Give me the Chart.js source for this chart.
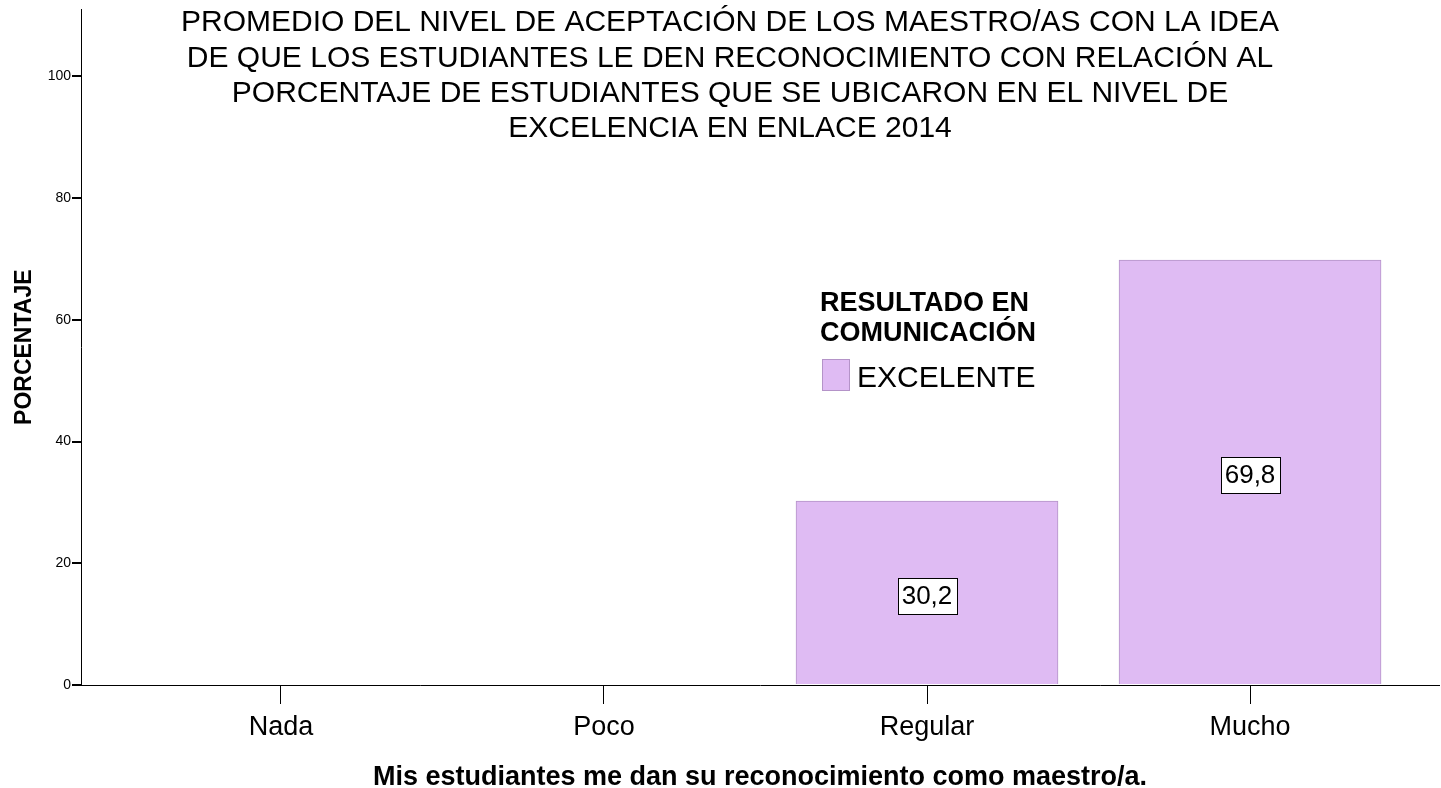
<!DOCTYPE html>
<html>
<head>
<meta charset="utf-8">
<script src="https://cdn.jsdelivr.net/npm/chart.js@4.4.1/dist/chart.umd.min.js"></script>
<style>
  html, body { margin: 0; padding: 0; background: #fff; }
  #wrap { width: 1441px; height: 788px; }
</style>
</head>
<body>
<div id="wrap"><canvas id="myChart" width="1441" height="788"></canvas></div>
<script>
const categories = ["Nada", "Poco", "Regular", "Mucho"];
const excelente = [0, 0, 30.2, 69.8];
const yTicks = [0, 20, 40, 60, 80, 100];
const titleLines = [
  "PROMEDIO DEL NIVEL DE ACEPTACIÓN DE LOS MAESTRO/AS CON LA IDEA",
  "DE QUE LOS ESTUDIANTES LE DEN RECONOCIMIENTO CON RELACIÓN AL",
  "PORCENTAJE DE ESTUDIANTES QUE SE UBICARON EN EL NIVEL DE",
  "EXCELENCIA EN ENLACE 2014",
];
const legendTitle = ["RESULTADO EN", "COMUNICACIÓN"];

const FONT = "'Liberation Sans Narrow', 'Liberation Sans', Arial, sans-serif";
const barFill = "#dfbbf3";
const barLine = "#b493c8";

const ctx = document.getElementById("myChart").getContext("2d");

// title sits inside the plot, like the SPSS output
const titlePlugin = {
  id: "spssTitle",
  afterDraw(chart) {
    const c = chart.ctx;
    c.save();
    c.fillStyle = "#000";
    c.font = `30px ${FONT}`;
    c.textAlign = "center";
    c.textBaseline = "middle";
    titleLines.forEach((t, i) => c.fillText(t, 730, 23 + i * 35.3));
    c.restore();
  },
};

const legendPlugin = {
  id: "spssLegend",
  afterDraw(chart) {
    const c = chart.ctx;
    const ds = chart.data.datasets[0];
    c.save();
    c.fillStyle = "#000";
    c.textAlign = "left";
    c.textBaseline = "middle";
    c.font = `bold 27px ${FONT}`;
    legendTitle.forEach((t, i) => c.fillText(t, 820, 304 + i * 30));
    c.fillStyle = ds.backgroundColor;
    c.fillRect(822, 359, 27, 31);
    c.strokeStyle = ds.borderColor;
    c.lineWidth = 1;
    c.strokeRect(822.5, 359.5, 27, 31);
    c.fillStyle = "#000";
    c.font = `30px ${FONT}`;
    c.fillText(ds.label, 857, 379);
    c.restore();
  },
};

const valueLabels = {
  id: "valueLabels",
  afterDatasetsDraw(chart) {
    const c = chart.ctx;
    const meta = chart.getDatasetMeta(0);
    c.save();
    c.font = `26px ${FONT}`;
    c.textAlign = "center";
    c.textBaseline = "middle";
    meta.data.forEach((bar, i) => {
      const v = excelente[i];
      if (!v) return;
      const txt = v.toFixed(1).replace(".", ",");
      const w = c.measureText(txt).width + 8;
      const h = 36;
      const cx = bar.x;
      const cy = (bar.y + bar.base) / 2 + 3;
      c.fillStyle = "#fff";
      c.fillRect(Math.round(cx - w / 2) + 0.5, Math.round(cy - h / 2) + 0.5, Math.round(w), h);
      c.strokeStyle = "#000";
      c.lineWidth = 1;
      c.strokeRect(Math.round(cx - w / 2) + 0.5, Math.round(cy - h / 2) + 0.5, Math.round(w), h);
      c.fillStyle = "#000";
      c.fillText(txt, cx, cy + 1);
    });
    c.restore();
  },
};

const myChart = new Chart(ctx, {
  type: "bar",
  data: {
    datasets: [
      {
        label: "EXCELENTE",
        data: excelente.map((v, i) => ({ x: i, y: v })),
        backgroundColor: barFill,
        borderColor: barLine,
        borderWidth: 1,
        borderSkipped: "bottom",
        barThickness: 262,
      },
    ],
  },
  options: {
    responsive: false,
    animation: false,
    layout: { padding: { top: 8, right: 2, left: 0, bottom: 0 } },
    scales: {
      x: {
        type: "linear",
        min: -0.619,
        max: 3.585,
        offset: false,
        afterBuildTicks: (scale) => {
          scale.ticks = categories.map((c, i) => ({ value: i }));
        },
        afterFit: (scale) => { scale.height = 103; },
        border: { color: "#000", width: 1 },
        grid: { drawOnChartArea: false, offset: false, color: "#000", tickLength: 19 },
        ticks: {
          color: "#000",
          padding: 7,
          maxRotation: 0,
          font: { family: FONT, size: 27 },
          callback: (v) => categories[v],
        },
        title: {
          display: true,
          text: "Mis estudiantes me dan su reconocimiento como maestro/a.",
          color: "#000",
          font: { family: FONT, size: 27, weight: "bold", lineHeight: 0.8 },
          padding: { top: 0, bottom: 0 },
        },
      },
      y: {
        min: 0,
        max: 111,
        afterBuildTicks: (scale) => {
          scale.ticks = yTicks.map((v) => ({ value: v }));
        },
        afterFit: (scale) => { scale.width = 81; },
        border: { color: "#000", width: 1 },
        grid: { drawOnChartArea: false, color: "#000", tickLength: 9, lineWidth: 2 },
        ticks: {
          color: "#000",
          padding: 1,
          font: { family: FONT, size: 14 },
        },
        title: {
          display: true,
          text: "PORCENTAJE",
          color: "#000",
          font: { family: FONT, size: 23, weight: "bold" },
          padding: { top: 11, bottom: 8 },
        },
      },
    },
    plugins: {
      legend: { display: false },
      tooltip: { enabled: false },
    },
  },
  plugins: [titlePlugin, legendPlugin, valueLabels],
});
</script>
</body>
</html>
